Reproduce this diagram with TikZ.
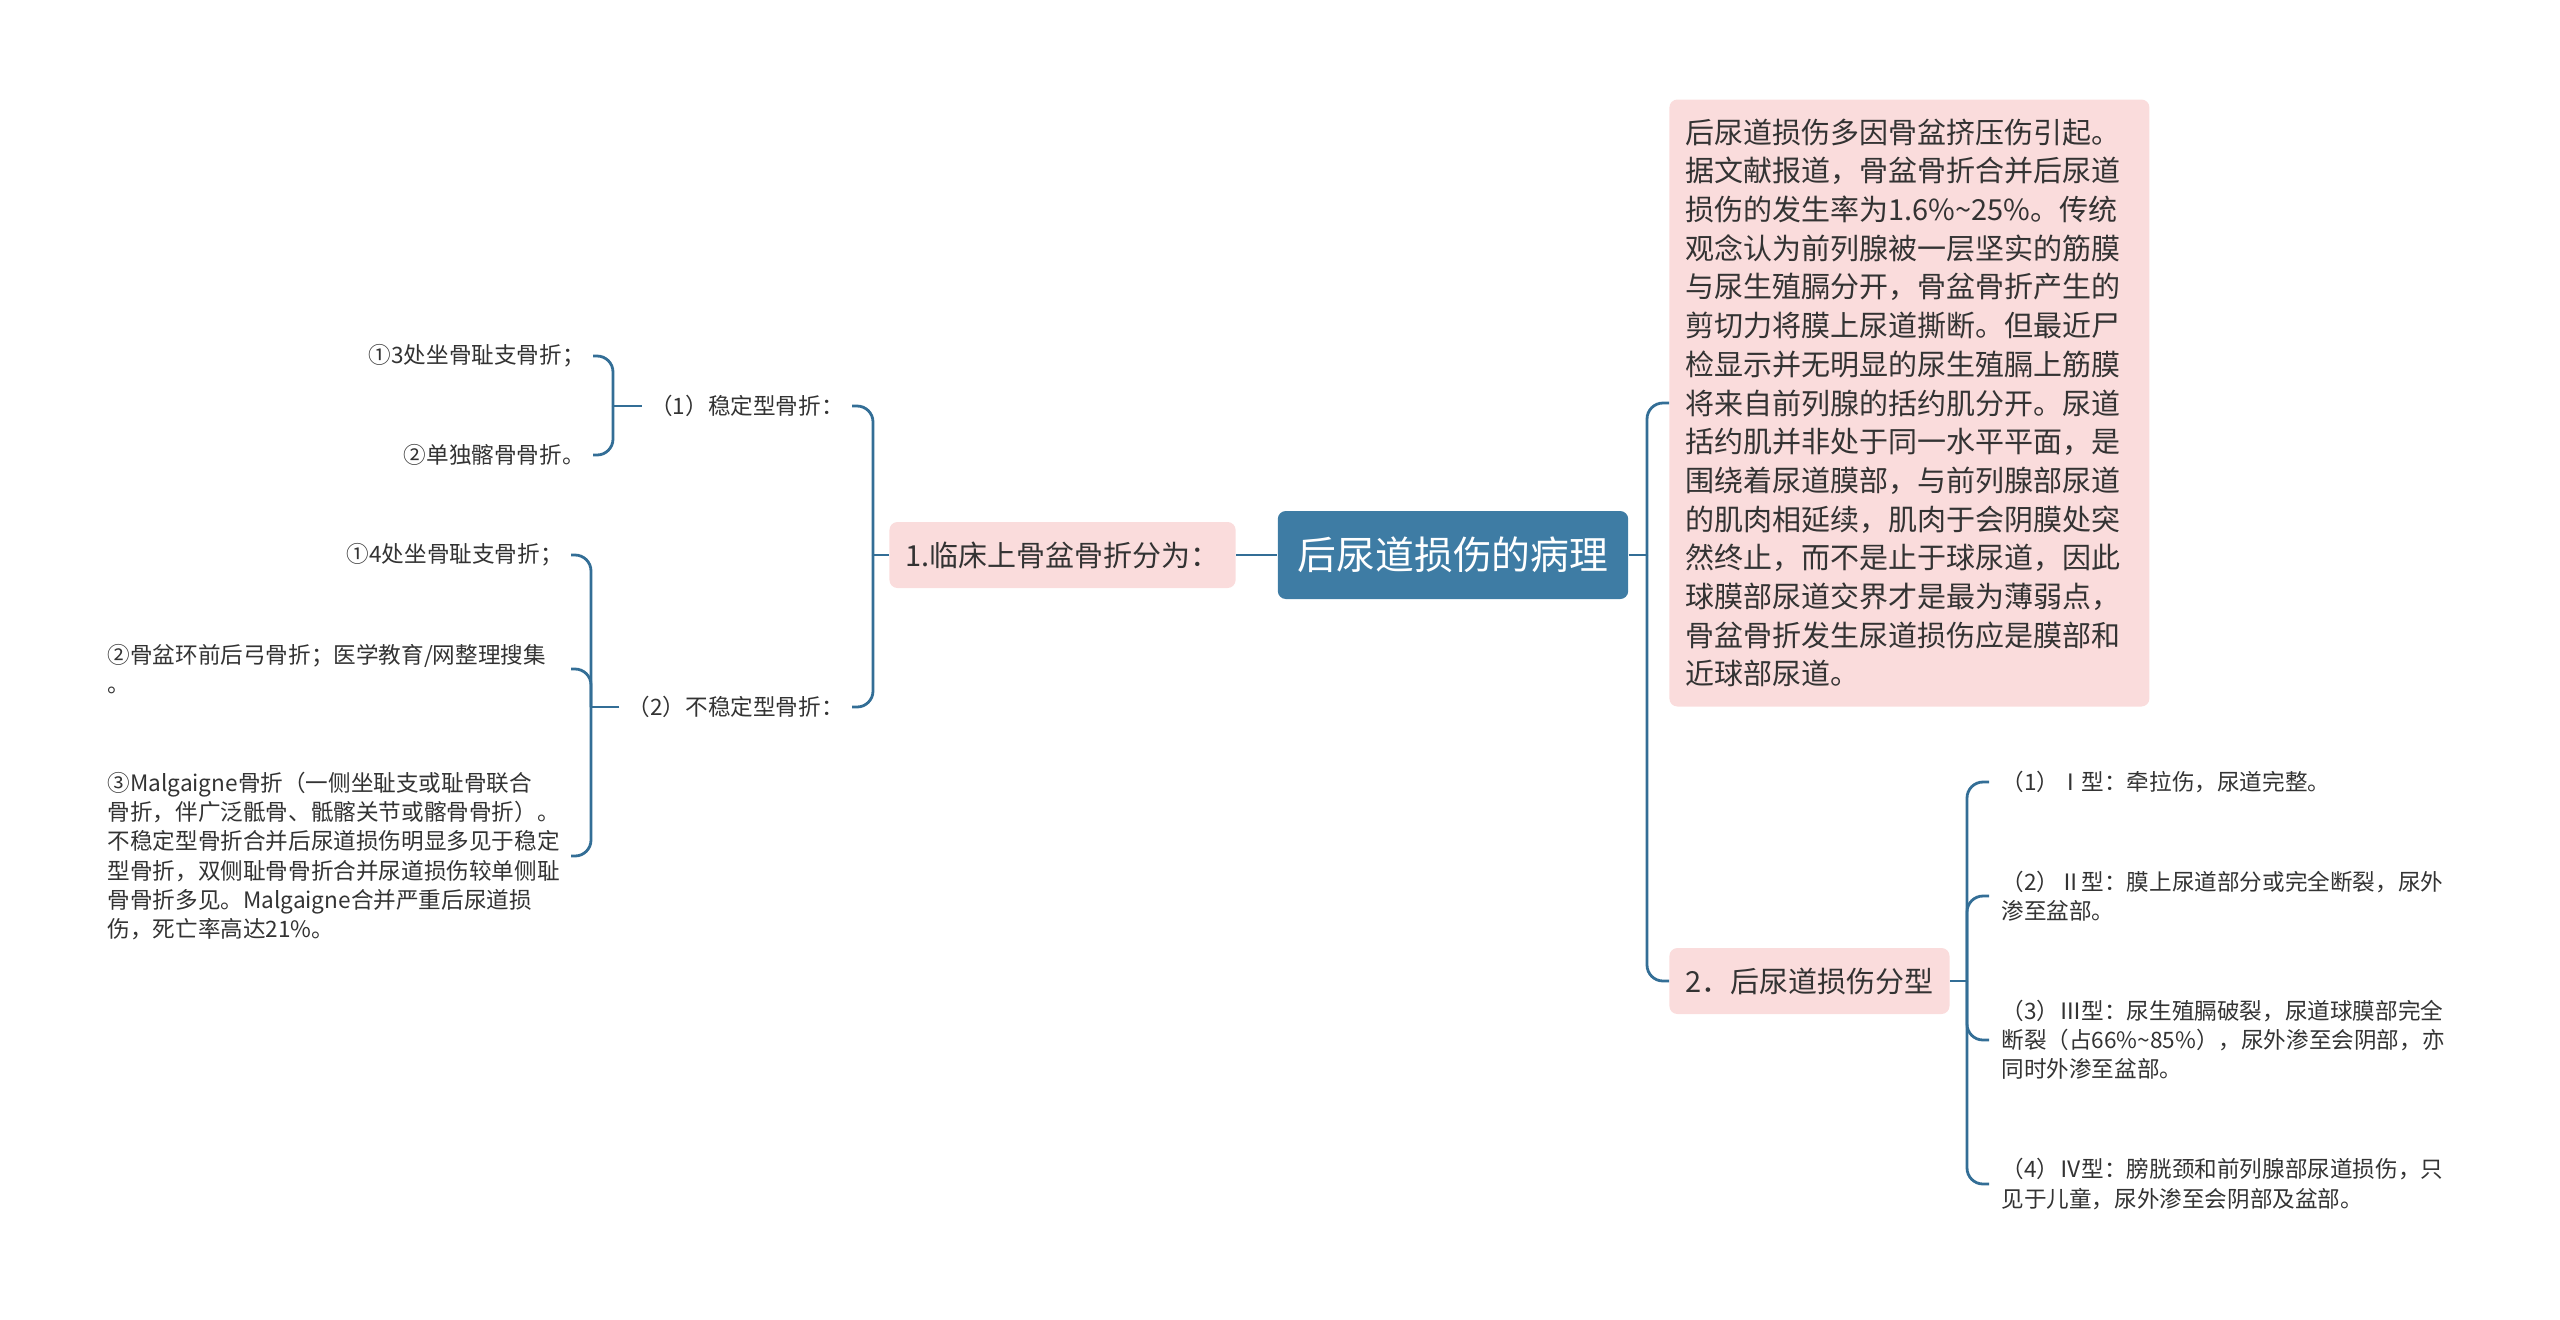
\documentclass[tikz,border=0pt]{standalone}
\usepackage{fontspec}
\setmainfont{Noto Sans CJK SC}
\usepackage{xcolor}
\usepackage{tikz}
\usetikzlibrary{calc,positioning}
\definecolor{ink}{HTML}{333333}
\definecolor{branch}{HTML}{336E96}
\definecolor{rootblue}{HTML}{3E7CA4}
\definecolor{blush}{HTML}{FADCDC}
\tikzset{
  RootBox/.style={
    fill=rootblue, text=white, rounded corners=4pt,
    inner xsep=10pt, minimum height=44pt,
    font=\fontsize{19.4}{23}\selectfont
  },
  PinkBox/.style={
    fill=blush, text=ink, rounded corners=4pt,
    inner xsep=8pt, minimum height=33pt,
    font=\fontsize{14.5}{19.35}\selectfont
  },
  Leaf/.style={
    text=ink, inner xsep=4pt, inner ysep=2pt, align=left,
    font=\fontsize{11.3}{14.6}\selectfont
  },
  Link/.style={draw=branch, line width=1.4pt, rounded corners=8pt}
}

\begin{document}
\begin{tikzpicture}[x=0.5pt, y=-0.5pt]
  \useasboundingbox (0,0) rectangle (2560,1319);

  \node[RootBox] (root) at (1453,555) {后尿道损伤的病理};
  \node[PinkBox, anchor=east] (clinic) at (1236,555) {1.临床上骨盆骨折分为：};
  \node[PinkBox, anchor=west, text width=224pt, align=left,
        minimum height=303.5pt, inner ysep=0pt] (cause) at (1669,403) {%
    后尿道损伤多因骨盆挤压伤引起。\\
    据文献报道，骨盆骨折合并后尿道\\
    损伤的发生率为1.6\%\textasciitilde25\%。传统\\
    观念认为前列腺被一层坚实的筋膜\\
    与尿生殖膈分开，骨盆骨折产生的\\
    剪切力将膜上尿道撕断。但最近尸\\
    检显示并无明显的尿生殖膈上筋膜\\
    将来自前列腺的括约肌分开。尿道\\
    括约肌并非处于同一水平平面，是\\
    围绕着尿道膜部，与前列腺部尿道\\
    的肌肉相延续，肌肉于会阴膜处突\\
    然终止，而不是止于球尿道，因此\\
    球膜部尿道交界才是最为薄弱点，\\
    骨盆骨折发生尿道损伤应是膜部和\\
    近球部尿道。};
  \node[PinkBox, anchor=west] (types) at (1669,981) {2．后尿道损伤分型};

  % left: kinds of pelvic fracture
  \node[Leaf, anchor=east] (stable) at (852,406) {（1）稳定型骨折：};
  \node[Leaf, anchor=east] (unstable) at (852,707) {（2）不稳定型骨折：};
  \node[Leaf, anchor=east] (s1) at (593,356) {①3处坐骨耻支骨折；};
  \node[Leaf, anchor=east] (s2) at (593,455) {②单独髂骨骨折。};
  \node[Leaf, anchor=east] (u1) at (571,555) {①4处坐骨耻支骨折；};
  \node[Leaf, anchor=east, text width=227.5pt] (u2) at (571,669) {%
    ②骨盆环前后弓骨折；医学教育/网整理搜集\\。};
  \node[Leaf, anchor=east, text width=227.5pt] (u3) at (571,856) {%
    ③Malgaigne骨折（一侧坐耻支或耻骨联合\\
    骨折，伴广泛骶骨、骶髂关节或髂骨骨折）。\\
    不稳定型骨折合并后尿道损伤明显多见于稳定\\
    型骨折，双侧耻骨骨折合并尿道损伤较单侧耻\\
    骨骨折多见。Malgaigne合并严重后尿道损\\
    伤，死亡率高达21\%。};

  % right: injury types
  \node[Leaf, anchor=west, inner xsep=6pt] (t1) at (1989,782) {（1）Ⅰ型：牵拉伤，尿道完整。};
  \node[Leaf, anchor=west, inner xsep=6pt] (t2) at (1989,896) {%
    （2）Ⅱ型：膜上尿道部分或完全断裂，尿外\\渗至盆部。};
  \node[Leaf, anchor=west, inner xsep=6pt] (t3) at (1989,1040) {%
    （3）Ⅲ型：尿生殖膈破裂，尿道球膜部完全\\
    断裂（占66\%\textasciitilde85\%），尿外渗至会阴部，亦\\
    同时外渗至盆部。};
  \node[Leaf, anchor=west, inner xsep=6pt] (t4) at (1989,1184) {%
    （4）Ⅳ型：膀胱颈和前列腺部尿道损伤，只\\见于儿童，尿外渗至会阴部及盆部。};

  % junctions
  \coordinate (jR) at (1647,555);
  \coordinate (jL) at (873,555);
  \coordinate (jS) at (613,406);
  \coordinate (jU) at (591,707);
  \coordinate (jT) at (1967,981);

  \draw[Link] (clinic.east) -- (root.west);
  \draw[Link] (root.east) -- (jR);
  \draw[Link] (jR) |- (cause.west);
  \draw[Link] (jR) |- (types.west);

  \draw[Link] (clinic.west) -- (jL);
  \draw[Link] (jL) |- (stable.east);
  \draw[Link] (jL) |- (unstable.east);

  \draw[Link] (stable.west) -- (jS);
  \draw[Link] (jS) |- (s1.east);
  \draw[Link] (jS) |- (s2.east);

  \draw[Link] (unstable.west) -- (jU);
  \foreach \n in {u1,u2,u3}
    \draw[Link] (jU) |- (\n.east);

  \draw[Link] (types.east) -- (jT);
  \foreach \n in {t1,t2,t3,t4}
    \draw[Link] (jT) |- (\n.west);
\end{tikzpicture}
\end{document}
